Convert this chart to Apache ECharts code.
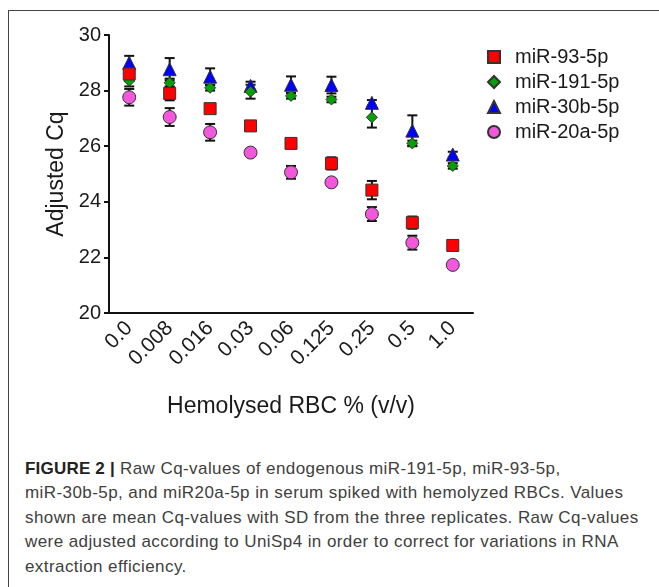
<!DOCTYPE html>
<html>
<head>
    <meta charset="utf-8">
    <script src="https://cdn.jsdelivr.net/npm/echarts@6/dist/echarts.min.js"></script>
    <style>
        body { margin: 0; background: #fff; }
        #frame { position: absolute; left: 8px; top: 10px; width: 651px; height: 577px;
                 border-top: 1px solid #444; border-left: 1px solid #444; }
        #main { position: absolute; left: 0; top: 0; width: 659px; height: 440px; }
        #caption { position: absolute; left: 25px; top: 457px; width: 630px;
                   font-family: "Liberation Sans", Arial, sans-serif; font-size: 17px;
                   letter-spacing: 0.42px; line-height: 24.4px; color: #404040; white-space: nowrap; }
        #caption b { color: #222; letter-spacing: 0.2px; }
    </style>
</head>
<body>
    <div id="frame"></div>
    <div id="main"></div>
    <div id="caption">
        <b>FIGURE 2 |</b> Raw Cq-values of endogenous miR-191-5p, miR-93-5p,<br>
        miR-30b-5p, and miR20a-5p in serum spiked with hemolyzed RBCs. Values<br>
        shown are mean Cq-values with SD from the three replicates. Raw Cq-values<br>
        were adjusted according to UniSp4 in order to correct for variations in RNA<br>
        extraction efficiency.
    </div>
    <script type="text/javascript">
        // 数据
        var categories = ['0.0', '0.008', '0.016', '0.03', '0.06', '0.125', '0.25', '0.5', '1.0'];
        var yTicks = [20, 22, 24, 26, 28, 30];

        var mir93 = [28.6, 27.9, 27.35, 26.73, 26.1, 25.38, 24.42, 23.25, 22.43];
        var mir93Sd = [0.25, 0.25, 0.1, 0.1, 0.1, 0.22, 0.33, 0.22, 0.1];
        var mir191 = [28.35, 28.28, 28.1, 27.96, 27.81, 27.68, 27.04, 26.1, 25.29];
        var mir191Sd = [0.2, 0.15, 0.1, 0.25, 0.1, 0.1, 0.37, 0.1, 0.1];
        var mir30b = [29.0, 28.77, 28.5, 28.17, 28.21, 28.2, 27.56, 26.56, 25.7];
        var mir30bSd = [0.25, 0.4, 0.3, 0.15, 0.3, 0.3, 0.1, 0.55, 0.1];
        var mir20a = [27.76, 27.05, 26.5, 25.77, 25.06, 24.7, 23.56, 22.53, 21.73];
        var mir20aSd = [0.3, 0.32, 0.3, 0.1, 0.23, 0.1, 0.25, 0.25, 0.1];

        var myChart = echarts.init(document.getElementById('main'));

        function errData(vals, sds) {
            var out = [];
            for (var i = 0; i < vals.length; i++) {
                out.push([i, vals[i] - sds[i], vals[i] + sds[i]]);
            }
            return out;
        }

        function renderErr(params, api) {
            var p1 = api.coord([api.value(0), api.value(1)]);
            var p2 = api.coord([api.value(0), api.value(2)]);
            var x = p1[0], w = 5;
            var st = { stroke: '#111', lineWidth: 2, fill: null };
            return {
                type: 'group',
                children: [
                    { type: 'line', shape: { x1: x, y1: p1[1], x2: x, y2: p2[1] }, style: st },
                    { type: 'line', shape: { x1: x - w, y1: p1[1], x2: x + w, y2: p1[1] }, style: st },
                    { type: 'line', shape: { x1: x - w, y1: p2[1], x2: x + w, y2: p2[1] }, style: st }
                ]
            };
        }

        function errSeries(vals, sds) {
            return {
                type: 'custom',
                renderItem: renderErr,
                encode: { x: 0, y: [1, 2] },
                data: errData(vals, sds),
                z: 1,
                silent: true
            };
        }

        function markStyle(c) {
            return { color: c, borderColor: '#333', borderWidth: 1, opacity: 1 };
        }

        var option = {
            animation: false,
            textStyle: { fontFamily: '"Liberation Sans", Arial, sans-serif', color: '#1a1a1a' },
            grid: { left: 109, right: 186, top: 35, bottom: 127, containLabel: false },
            legend: {
                data: ['miR-93-5p', 'miR-191-5p', 'miR-30b-5p', 'miR-20a-5p'],
                orient: 'vertical',
                left: 487,
                top: 47,
                padding: 0,
                itemWidth: 12,
                itemHeight: 12,
                itemGap: 5,
                textStyle: { fontSize: 20, lineHeight: 20, color: '#1a1a1a', padding: [0, 0, 0, 10] }
            },
            xAxis: {
                type: 'category',
                data: categories,
                boundaryGap: true,
                name: 'Hemolysed RBC % (v/v)',
                nameLocation: 'middle',
                nameGap: 82,
                nameTextStyle: { fontSize: 23, color: '#1a1a1a' },
                axisLine: { lineStyle: { color: '#111', width: 2 } },
                axisTick: { alignWithLabel: true, length: 5, lineStyle: { color: '#111', width: 2 } },
                axisLabel: { rotate: 45, interval: 0, fontSize: 21, margin: 12, color: '#1a1a1a' },
                splitLine: { show: false }
            },
            yAxis: {
                type: 'value',
                min: yTicks[0],
                max: yTicks[yTicks.length - 1],
                interval: 2,
                name: 'Adjusted Cq',
                nameLocation: 'middle',
                nameGap: 31,
                nameTextStyle: { fontSize: 23, color: '#1a1a1a' },
                axisLine: { show: true, lineStyle: { color: '#111', width: 2 } },
                axisTick: { show: true, length: 5, lineStyle: { color: '#111', width: 2 } },
                axisLabel: { fontSize: 20, margin: 8, color: '#1a1a1a' },
                splitLine: { show: false }
            },
            series: [
                errSeries(mir30b, mir30bSd),
                errSeries(mir191, mir191Sd),
                errSeries(mir93, mir93Sd),
                errSeries(mir20a, mir20aSd),
                {
                    name: 'miR-30b-5p', type: 'scatter', symbol: 'triangle', symbolSize: 13, z: 2,
                    itemStyle: markStyle('#0000ff'), data: mir30b
                },
                {
                    name: 'miR-191-5p', type: 'scatter', symbol: 'diamond', symbolSize: 11, z: 2,
                    itemStyle: markStyle('#06a006'), data: mir191
                },
                {
                    name: 'miR-93-5p', type: 'scatter', symbol: 'rect', symbolSize: 12, z: 2,
                    itemStyle: markStyle('#ff0000'), data: mir93
                },
                {
                    name: 'miR-20a-5p', type: 'scatter', symbol: 'circle', symbolSize: 13, z: 2,
                    itemStyle: markStyle('#f257dc'), data: mir20a
                }
            ]
        };

        myChart.setOption(option);
    </script>
</body>
</html>
